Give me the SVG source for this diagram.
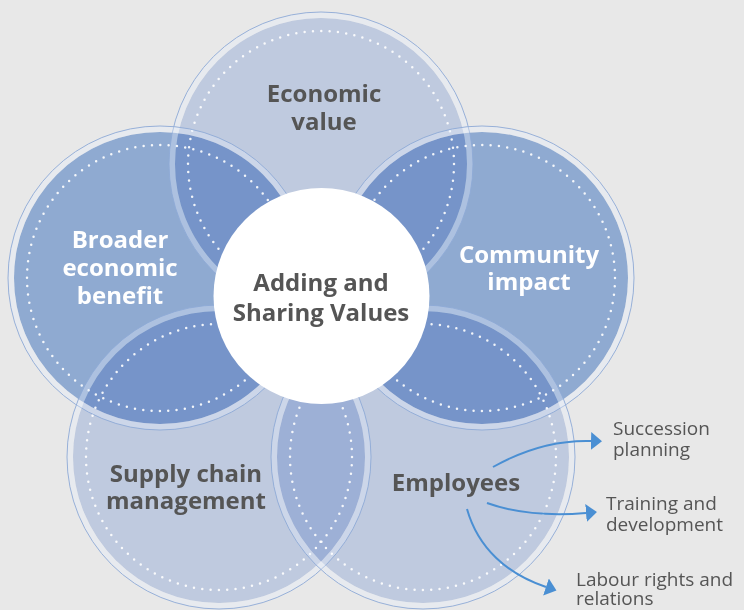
<svg xmlns="http://www.w3.org/2000/svg" width="744" height="610" viewBox="0 0 744 610">
  <defs>
    <style>
      .disc-light { fill: #d2def5; mix-blend-mode: multiply; }
      .disc-mid { fill: #9dbbe6; mix-blend-mode: multiply; }
      .band { fill: none; stroke: rgb(228,237,252); stroke-opacity: 0.35; stroke-width: 6; }
      .rim { fill: none; stroke: #8eaad6; stroke-opacity: 0.9; stroke-width: 1; }
      .dots { fill: none; stroke: #ffffff; stroke-opacity: 0.9; stroke-width: 2.5; stroke-linecap: round; stroke-dasharray: 0 8.357; }
      .head { font-family: "Open Sans", "Liberation Sans", sans-serif; font-weight: 700; font-size: 24px; text-anchor: middle; }
      .dark { fill: #555555; }
      .light { fill: #ffffff; }
      .sub { font-family: "Open Sans", "Liberation Sans", sans-serif; font-size: 19px; fill: #555555; }
      .link { fill: none; stroke: #4a8fd3; stroke-width: 2; }
    </style>
    <marker id="tip" markerUnits="userSpaceOnUse" markerWidth="12" markerHeight="18" refX="0" refY="9" orient="auto">
      <path d="M0,0 L11,9 L0,18 Z" fill="#4a8fd3"/>
    </marker>
  </defs>

  <rect width="744" height="610" fill="#e8e8e8"/>

  <!-- translucent discs, multiplied so overlaps darken -->
  <g id="discs">
    <circle class="disc-light" cx="321" cy="164" r="146"/>
    <circle class="disc-mid" cx="160" cy="278" r="146"/>
    <circle class="disc-mid" cx="482" cy="278" r="146"/>
    <circle class="disc-light" cx="219" cy="457" r="146"/>
    <circle class="disc-light" cx="423" cy="457" r="146"/>
  </g>

  <g id="economic-value">
    <circle class="band" cx="321" cy="164" r="149"/>
    <circle class="rim" cx="321" cy="164" r="152"/>
    <circle class="dots" cx="321" cy="164" r="133"/>
    <text class="head dark" x="324" y="102">Economic</text>
    <text class="head dark" x="324" y="130">value</text>
  </g>

  <g id="broader-economic-benefit">
    <circle class="band" cx="160" cy="278" r="149"/>
    <circle class="rim" cx="160" cy="278" r="152"/>
    <circle class="dots" cx="160" cy="278" r="133"/>
    <text class="head light" x="120" y="248">Broader</text>
    <text class="head light" x="120" y="276">economic</text>
    <text class="head light" x="120" y="304">benefit</text>
  </g>

  <g id="community-impact">
    <circle class="band" cx="482" cy="278" r="149"/>
    <circle class="rim" cx="482" cy="278" r="152"/>
    <circle class="dots" cx="482" cy="278" r="133"/>
    <text class="head light" x="529" y="263">Community</text>
    <text class="head light" x="529" y="290">impact</text>
  </g>

  <g id="supply-chain-management">
    <circle class="band" cx="219" cy="457" r="149"/>
    <circle class="rim" cx="219" cy="457" r="152"/>
    <circle class="dots" cx="219" cy="457" r="133"/>
    <text class="head dark" x="186" y="482">Supply chain</text>
    <text class="head dark" x="186" y="509">management</text>
  </g>

  <g id="employees">
    <circle class="band" cx="423" cy="457" r="149"/>
    <circle class="rim" cx="423" cy="457" r="152"/>
    <circle class="dots" cx="423" cy="457" r="133"/>
    <text class="head dark" x="456" y="491">Employees</text>
  </g>

  <g id="adding-and-sharing-values">
    <circle cx="321.5" cy="296" r="108" fill="#ffffff"/>
    <text class="head dark" x="321" y="291" font-size="25">Adding and</text>
    <text class="head dark" x="321" y="321" font-size="25">Sharing Values</text>
  </g>

  <g id="connectors">
    <path class="link" d="M493,467 C525,449 558,440 591,441" marker-end="url(#tip)"/>
    <path class="link" d="M487,503 C515,513 550,516 586,513" marker-end="url(#tip)"/>
    <path class="link" d="M467,509 C478,548 507,574 546,587" marker-end="url(#tip)"/>
  </g>

  <g id="succession-planning">
    <text class="sub" x="613" y="435">Succession</text>
    <text class="sub" x="613" y="456">planning</text>
  </g>
  <g id="training-and-development">
    <text class="sub" x="606" y="510">Training and</text>
    <text class="sub" x="606" y="531">development</text>
  </g>
  <g id="labour-rights-and-relations">
    <text class="sub" x="576" y="586">Labour rights and</text>
    <text class="sub" x="576" y="605">relations</text>
  </g>
</svg>
